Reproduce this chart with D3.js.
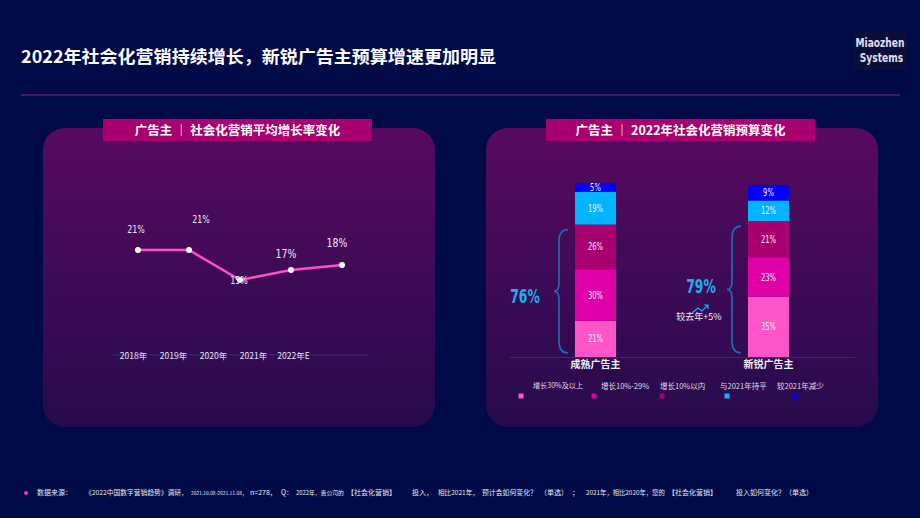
<!DOCTYPE html>
<html><head><meta charset="utf-8">
<script src="https://cdn.jsdelivr.net/npm/d3@7/dist/d3.min.js"></script>
<style>
html,body{margin:0;padding:0;background:#000a46;}
svg{display:block;}
.cn{font-family:"Noto Sans CJK SC","Noto Sans",sans-serif;}
.num{font-family:"DejaVu Sans","Noto Sans",sans-serif;}
</style></head>
<body>
<svg id="c" width="920" height="518"></svg>
<script>
// ---------- data ----------
const title = "2022年社会化营销持续增长，新锐广告主预算增速更加明显";
const leftTitle = "广告主 ｜ 社会化营销平均增长率变化";
const rightTitle = "广告主 ｜ 2022年社会化营销预算变化";
const years = ["2018年","2019年","2020年","2021年","2022年E"];
const growthRate = [21, 21, 15, 17, 18];
const advertisers = ["成熟广告主","新锐广告主"];
const budgetSeries = ["增长30%及以上","增长10%-29%","增长10%以内","与2021年持平","较2021年减少"];
const budgetMature = [21, 30, 26, 19, 5];
const budgetEmerging = [35, 23, 21, 12, 9];
const growthTotals = ["76%","79%"];
const yoyNote = "较去年+5%";
const sourceText = ["数据来源：","《2022中国数字营销趋势》调研，","2021.10.08-2021.11.08，","n=278，","Q：","2022年，贵公司的","【社会化营销】","投入，","相比2021年，","预计会如何变化？","（单选）","；","2021年，相比2020年，您的","【社会化营销】","投入如何变化？（单选）"];

// ---------- helpers ----------
function condense(sel, f){
  sel.each(function(){
    const w = this.getComputedTextLength();
    d3.select(this).attr("textLength", w*f).attr("lengthAdjust","spacingAndGlyphs");
  });
  return sel;
}
function shrinkTo(sel, maxW){
  sel.each(function(){
    const w = this.getComputedTextLength();
    if (w > maxW) {
      const fs = parseFloat(d3.select(this).attr("font-size"));
      d3.select(this).attr("font-size", fs*maxW/w);
    }
  });
}

// ---------- layout ----------
const svg = d3.select("#c");
const W = 920, H = 518;
const seriesColors = ["#ff55c8","#e000a8","#a8006e","#00b4ff","#0000ff"];

const defs = svg.append("defs");
const grad = defs.append("linearGradient").attr("id","pg").attr("x1",0).attr("y1",0).attr("x2",0).attr("y2",1);
grad.append("stop").attr("offset","0%").attr("stop-color","#580a60");
grad.append("stop").attr("offset","100%").attr("stop-color","#260a4c");

svg.append("rect").attr("width",W).attr("height",H).attr("fill","#000a46");

// title
svg.append("text").attr("class","cn").attr("x",21).attr("y",63)
  .attr("fill","#fff").attr("font-size",17.5).attr("font-weight",700)
  .attr("textLength",475).attr("lengthAdjust","spacingAndGlyphs").text(title);
// logo
const logo = svg.append("g");
logo.append("rect").attr("x",853).attr("y",31).attr("width",54).attr("height",39).attr("fill","#0a0f3a");
const lg = logo.append("g").attr("transform","translate(880,0) scale(0.7,1)");
lg.append("text").attr("class","num").attr("x",0).attr("y",47).attr("text-anchor","middle")
  .attr("fill","#e0e0ee").attr("font-size",13).attr("font-weight",700).text("Miaozhen");
lg.append("text").attr("class","num").attr("x",2).attr("y",62).attr("text-anchor","middle")
  .attr("fill","#e0e0ee").attr("font-size",13).attr("font-weight",700).text("Systems");
// divider
svg.append("line").attr("x1",21).attr("x2",900).attr("y1",95).attr("y2",95)
  .attr("stroke","#8a2a90").attr("stroke-width",1.2);

// panels
function panel(x, label){
  svg.append("rect").attr("x",x).attr("y",128).attr("width",392).attr("height",299)
    .attr("rx",22).attr("fill","url(#pg)");
  svg.append("rect").attr("x",x+60).attr("y",119).attr("width",269).attr("height",22).attr("fill","#a8006e");
  svg.append("text").attr("class","cn").attr("x",x+60+134.5).attr("y",135)
    .attr("text-anchor","middle").attr("fill","#fff").attr("font-size",12.5).attr("font-weight",700)
    .text(label);
}
panel(43, leftTitle);
panel(486, rightTitle);

// ---------- left line chart ----------
const xAxisScale = d3.scalePoint().domain(years).range([133,293]);
const xPt = d3.scalePoint().domain(years).range([138,342]);
const yL = d3.scaleLinear().domain([0,21]).range([355,250]);

svg.append("line").attr("x1",113).attr("x2",368).attr("y1",355).attr("y2",355)
  .attr("stroke","#3c2a78").attr("stroke-width",1);
const ax = svg.append("g").attr("transform","translate(0,356)")
  .call(d3.axisBottom(xAxisScale).tickSize(0).tickPadding(0));
ax.select(".domain").remove();
ax.selectAll("text").attr("class","cn").attr("fill","#e8e0f0").attr("font-size",8.5)
  .attr("dy","0.35em").attr("y",0);

const lineGen = d3.line().x((d,i)=>xPt(years[i])).y(d=>yL(d));
svg.append("path").datum(growthRate).attr("d",lineGen).attr("fill","none")
  .attr("stroke","#ff4fc8").attr("stroke-width",2.5);
svg.selectAll(".pt").data(growthRate).join("circle")
  .attr("cx",(d,i)=>xPt(years[i])).attr("cy",d=>yL(d)).attr("r",3).attr("fill","#fff");

const labelLayout = [{dx:-2,dy:-21,fs:11},{dx:12,dy:-31,fs:11},{dx:-1,dy:0,fs:11},{dx:-5,dy:-17,fs:13},{dx:-5,dy:-23,fs:13}];
const vl = svg.selectAll(".vl").data(growthRate).join("text").attr("class","num")
  .attr("x",(d,i)=>xPt(years[i])+labelLayout[i].dx)
  .attr("y",(d,i)=>yL(d)+labelLayout[i].dy)
  .attr("dy","0.35em").attr("text-anchor","middle")
  .attr("fill","#f0e8f4").attr("font-size",(d,i)=>labelLayout[i].fs)
  .text(d=>d+"%");
condense(vl, 0.72);

// ---------- right stacked bars ----------
const xB = d3.scaleBand().domain(advertisers).range([575,789]).paddingInner(0).paddingOuter(0);
const yB = d3.scaleLinear().domain([0,100]).range([357,185]);
const barData = [budgetMature, budgetEmerging];
const bw = 41;

svg.append("line").attr("x1",510).attr("x2",855).attr("y1",357.5).attr("y2",357.5)
  .attr("stroke","#3c2a70").attr("stroke-width",1);

barData.forEach((vals, bi)=>{
  const x0 = bi === 0 ? xB(advertisers[0]) : xB.range()[1] - bw;
  let cum = 0;
  vals.forEach((v, si)=>{
    const y0 = yB(cum), y1 = yB(cum+v);
    svg.append("rect").attr("x",x0).attr("y",y1).attr("width",bw).attr("height",y0-y1)
      .attr("fill",seriesColors[si]);
    const t = svg.append("text").attr("class","num").attr("x",x0+bw/2).attr("y",(y0+y1)/2)
      .attr("dy","0.35em").attr("text-anchor","middle").attr("fill","#f4eaf8")
      .attr("font-size",10).text(v+"%");
    condense(t, 0.68);
    cum += v;
  });
  svg.append("text").attr("class","cn").attr("x",x0+bw/2).attr("y",364)
    .attr("dy","0.35em").attr("text-anchor","middle").attr("fill","#f0f0f8")
    .attr("font-size",10).attr("font-weight",700).text(advertisers[bi]);

  // brace over first three series
  const top = yB(d3.sum(vals.slice(0,3))) + 5, bot = 353;
  const bx = x0 - 7, tip = bx - 14, mid = (top+bot)/2, arm = bx - 9;
  const p = `M${bx},${top} Q${arm},${top} ${arm},${top+12} L${arm},${mid-8} Q${arm},${mid} ${tip},${mid} Q${arm},${mid} ${arm},${mid+8} L${arm},${bot-12} Q${arm},${bot} ${bx},${bot}`;
  svg.append("path").attr("d",p).attr("fill","none").attr("stroke","#1d70b8").attr("stroke-width",1.6);
});

const g1 = svg.append("text").attr("class","num").attr("x",525).attr("y",296).attr("dy","0.35em")
  .attr("text-anchor","middle").attr("fill","#1ab0f0").attr("font-size",20).attr("font-weight",700).text(growthTotals[0]);
const g2 = svg.append("text").attr("class","num").attr("x",701).attr("y",286).attr("dy","0.35em")
  .attr("text-anchor","middle").attr("fill","#1ab0f0").attr("font-size",20).attr("font-weight",700).text(growthTotals[1]);
condense(g1, 0.62); condense(g2, 0.62);
svg.append("path").attr("d","M692,313 L698,308 L702,311 L708,305 M704,305 L708,305 L708,309")
  .attr("fill","none").attr("stroke","#1ab0f0").attr("stroke-width",1.2);
svg.append("text").attr("class","cn").attr("x",699).attr("y",317).attr("dy","0.35em")
  .attr("text-anchor","middle").attr("fill","#f0f0f8").attr("font-size",9).text(yoyNote);

// legend
const legX = [521, 594, 662, 727, 795];
const legLabelX = [533, 601, 660, 720, 777];
budgetSeries.forEach((s,i)=>{
  svg.append("rect").attr("x",legX[i]-2.5).attr("y",393.5).attr("width",5).attr("height",5).attr("fill",seriesColors[i]);
  const t = svg.append("text").attr("class","cn").attr("x",legLabelX[i]).attr("y",386).attr("dy","0.35em")
    .attr("fill","#e0d8ec").attr("font-size",7.5).text(s);
  shrinkTo(t, 50);
});

// footer
svg.append("circle").attr("cx",26).attr("cy",493).attr("r",2).attr("fill","#ff2fc0");
const srcX = [37,85,191,250,281,296,347,412,438,482,540,572,586,668,736,822];
sourceText.forEach((s,i)=>{
  const t = svg.append("text").attr("class","cn").attr("x",srcX[i]).attr("y",493).attr("dy","0.35em")
    .attr("fill","#e8e8f4").attr("font-size",7).text(s);
  shrinkTo(t, srcX[i+1] - srcX[i] - 3);
});
</script>
</body></html>
